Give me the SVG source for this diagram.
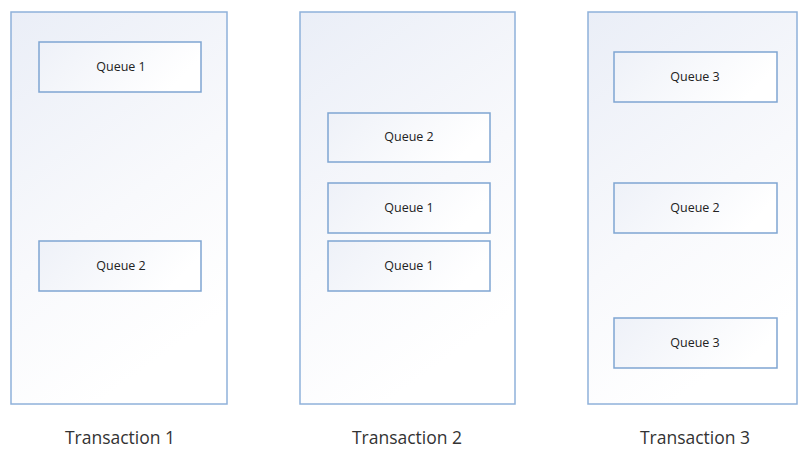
<svg xmlns="http://www.w3.org/2000/svg" width="798" height="450" viewBox="0 0 798 450">
  <defs>
    <linearGradient id="txFill" x1="0" y1="0" x2="0.4" y2="1">
      <stop offset="0" stop-color="#eaeef7"/>
      <stop offset="0.6" stop-color="#f8f9fc"/>
      <stop offset="1" stop-color="#ffffff"/>
    </linearGradient>
    <linearGradient id="qFill" x1="0" y1="0" x2="1" y2="0.3">
      <stop offset="0" stop-color="#eef1f8"/>
      <stop offset="1" stop-color="#ffffff"/>
    </linearGradient>
    <style>
      .tx { fill: url(#txFill); stroke: #8fb1da; stroke-width: 1.5; }
      .q { fill: url(#qFill); stroke: #7fa5d2; stroke-width: 1.5; }
      .qt { font-family: "Open Sans", "DejaVu Sans", sans-serif; font-size: 12.5px; fill: #222; text-anchor: middle; }
      .tt { font-family: "Open Sans", "DejaVu Sans", sans-serif; font-size: 17.5px; fill: #333; text-anchor: middle; }
    </style>
  </defs>
  <rect width="798" height="450" fill="#ffffff"/>

  <!-- Transaction 1 -->
  <g id="transaction1">
    <rect class="tx" x="11" y="12" width="216" height="392"/>
    <text class="tt" x="120" y="444">Transaction 1</text>
  </g>
  <g id="t1-queue1">
    <rect class="q" x="39" y="42" width="162" height="50"/>
    <text class="qt" x="121" y="71">Queue 1</text>
  </g>
  <g id="t1-queue2">
    <rect class="q" x="39" y="241" width="162" height="50"/>
    <text class="qt" x="121" y="270">Queue 2</text>
  </g>

  <!-- Transaction 2 -->
  <g id="transaction2">
    <rect class="tx" x="300" y="12" width="215" height="392"/>
    <text class="tt" x="407" y="444">Transaction 2</text>
  </g>
  <g id="t2-queue2">
    <rect class="q" x="328" y="113" width="162" height="49"/>
    <text class="qt" x="409" y="141">Queue 2</text>
  </g>
  <g id="t2-queue1a">
    <rect class="q" x="328" y="183" width="162" height="50"/>
    <text class="qt" x="409" y="212">Queue 1</text>
  </g>
  <g id="t2-queue1b">
    <rect class="q" x="328" y="241" width="162" height="50"/>
    <text class="qt" x="409" y="270">Queue 1</text>
  </g>

  <!-- Transaction 3 -->
  <g id="transaction3">
    <rect class="tx" x="588" y="12" width="209" height="392"/>
    <text class="tt" x="695" y="444">Transaction 3</text>
  </g>
  <g id="t3-queue3a">
    <rect class="q" x="614" y="52" width="163" height="50"/>
    <text class="qt" x="695" y="81">Queue 3</text>
  </g>
  <g id="t3-queue2">
    <rect class="q" x="614" y="183" width="163" height="50"/>
    <text class="qt" x="695" y="212">Queue 2</text>
  </g>
  <g id="t3-queue3b">
    <rect class="q" x="614" y="318" width="163" height="50"/>
    <text class="qt" x="695" y="347">Queue 3</text>
  </g>

  <!-- no connectors in this diagram -->
  <g id="connectors"/>
</svg>
